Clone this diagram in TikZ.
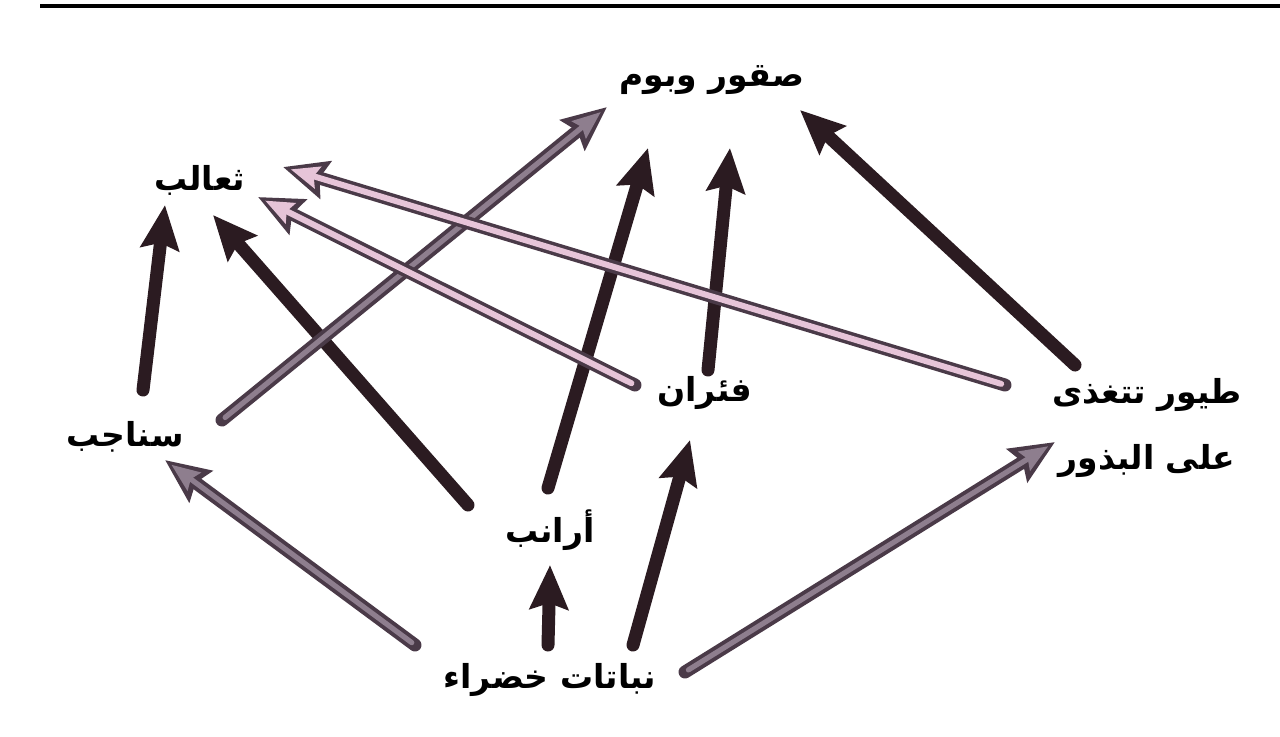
\documentclass[tikz,border=0pt]{standalone}
\usepackage{fontspec}
\usetikzlibrary{arrows.meta,calc}
\TeXXeTstate=1
\newfontfamily\arabicfont[Script=Arabic]{DejaVu Sans}
\definecolor{inkdark}{HTML}{2B1B21}
\definecolor{inkgray}{HTML}{4A3A48}
\definecolor{pinkfill}{HTML}{E6C4D8}
\definecolor{grayfill}{HTML}{8E7E8E}
\tikzset{
  lbl/.style={font=\arabicfont\bfseries\fontsize{16.5}{22}\selectfont, text=black, inner sep=0pt, align=center},
  darkarrow/.style={draw=inkdark, line width=6.5pt, line cap=round, -{Stealth[length=22pt,width=19pt,inset=3pt]}},
  outerarrow/.style={draw=inkgray, line width=6.5pt, line cap=round, -{Stealth[length=22pt,width=19pt,inset=3pt]}},
  innerpink/.style={draw=pinkfill, line width=3pt, line cap=round, shorten >=4pt, shorten <=2pt, -{Stealth[length=14pt,width=11pt,inset=2pt]}},
  innergray/.style={draw=grayfill, line width=2.6pt, line cap=round, shorten >=4pt, shorten <=2pt, -{Stealth[length=14pt,width=11pt,inset=2pt]}}
}
\begin{document}
\begin{tikzpicture}[x=0.5pt,y=-0.5pt]
\useasboundingbox (0,0) rectangle (1280,736);
\fill[white] (0,0) rectangle (1280,736);
\coordinate (ruleL) at (40,6);
\coordinate (ruleR) at (1280,6);
\draw[line width=2.2pt, black] (ruleL) -- (ruleR);

\node[lbl] (H) at (712,80) {\beginR صقور وبوم\endR};
\node[lbl] (F) at (200,180) {\beginR ثعالب\endR};
\node[lbl] (S) at (125,437) {\beginR سناجب\endR};
\node[lbl] (M) at (705,393) {\beginR فئران\endR};
\node[lbl] (B) at (1147,428) {\beginR طيور تتغذى\endR\\[11pt]\beginR على البذور\endR};
\node[lbl] (R) at (550,530) {\beginR أرانب\endR};
\node[lbl] (P) at (550,680) {\beginR نباتات خضراء\endR};

% dark arrows
\draw[darkarrow] ($(S)+(18,-47)$) -- ($(F)+(-35,25)$);
\draw[darkarrow] ($(R)+(-82,-25)$) -- ($(F)+(13,35)$);
\draw[darkarrow] ($(R)+(-2,-42)$) -- ($(H)+(-64,68)$);
\draw[darkarrow] ($(M)+(3,-23)$) -- ($(H)+(18,68)$);
\draw[darkarrow] ($(B)+(-72,-63)$) -- ($(H)+(88,30)$);
\draw[darkarrow] ($(P)+(-2,-35)$) -- ($(R)+(0,35)$);
\draw[darkarrow] ($(P)+(83,-35)$) -- ($(M)+(-15,47)$);

% gray arrows
\draw[outerarrow] ($(S)+(97,-17)$) -- ($(H)+(-105,27)$);
\draw[innergray] ($(S)+(97,-17)$) -- ($(H)+(-105,27)$);
\draw[outerarrow] ($(P)+(-135,-35)$) -- ($(S)+(40,23)$);
\draw[innergray] ($(P)+(-135,-35)$) -- ($(S)+(40,23)$);
\draw[outerarrow] ($(P)+(135,-8)$) -- ($(B)+(-92,14)$);
\draw[innergray] ($(P)+(135,-8)$) -- ($(B)+(-92,14)$);

% light (pink) arrows
\draw[outerarrow] ($(M)+(-70,-8)$) -- ($(F)+(58,17)$);
\draw[innerpink] ($(M)+(-70,-8)$) -- ($(F)+(58,17)$);
\draw[outerarrow] ($(B)+(-142,-43)$) -- ($(F)+(83,-13)$);
\draw[innerpink] ($(B)+(-142,-43)$) -- ($(F)+(83,-13)$);
\end{tikzpicture}
\end{document}
